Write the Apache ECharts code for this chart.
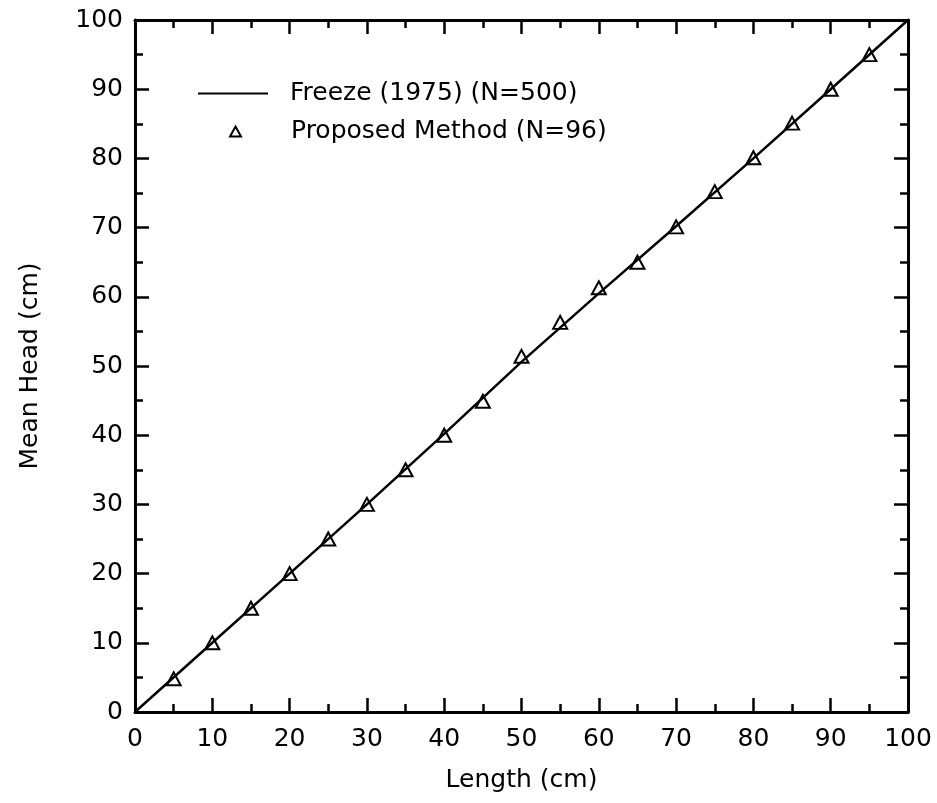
<!DOCTYPE html>
<html>
<head>
<meta charset="utf-8">
<script src="https://cdn.jsdelivr.net/npm/echarts@6/dist/echarts.min.js"></script>
<style>html,body{margin:0;padding:0;background:#fff;}#c{width:937px;height:803px;}</style>
</head>
<body>
<div id="c"></div>
<script>
const lineName = 'Freeze (1975) (N=500)';
const pointName = 'Proposed Method (N=96)';
const lineX = [0, 10, 20, 30, 40, 50, 60, 70, 80, 90, 100];
const lineY = [0, 10, 20, 30, 40.2, 50.6, 60.5, 70.2, 80, 90, 100];
const pointX = [5, 10, 15, 20, 25, 30, 35, 40, 45, 50, 55, 60, 65, 70, 75, 80, 85, 90, 95];
const pointY = [4.8, 10, 15, 20, 25, 30, 35, 40, 44.9, 51.4, 56.3, 61.3, 65, 70.1, 75.2, 80.1, 85.1, 90, 95];
const xTitle = 'Length (cm)';
const yTitle = 'Mean Head (cm)';

const FONT = 'DejaVu Sans';
const FS = 25;
const chart = echarts.init(document.getElementById('c'));
function axisBase(show) {
  return {
    type: 'value', min: 0, max: 100, interval: 10,
    axisLine: { show: true, onZero: false, lineStyle: { color: '#000', width: 3 } },
    axisTick: { show: true, inside: true, length: 14, lineStyle: { color: '#000', width: 2.5 } },
    minorTick: { show: true, splitNumber: 2, length: 8, lineStyle: { color: '#000', width: 2.5 } },
    splitLine: { show: false },
    axisLabel: { show: show, color: '#000', fontFamily: FONT, fontSize: FS }
  };
}
const xB = Object.assign(axisBase(true), { position: 'bottom', name: xTitle, nameLocation: 'middle', nameGap: 56,
  nameTextStyle: { color: '#000', fontFamily: FONT, fontSize: FS } });
xB.axisLabel.margin = 15;
const xT = Object.assign(axisBase(false), { position: 'top' });
const yL = Object.assign(axisBase(true), { position: 'left', name: yTitle, nameLocation: 'middle', nameGap: 92,
  nameTextStyle: { color: '#000', fontFamily: FONT, fontSize: FS } });
yL.axisLabel.margin = 12;
const yR = Object.assign(axisBase(false), { position: 'right' });

chart.setOption({
  backgroundColor: '#fff',
  animation: false,
  grid: { left: 135, right: 29, top: 20, bottom: 91, containLabel: false },
  xAxis: [xB, xT],
  yAxis: [yL, yR],
  legend: [
    { data: [{ name: lineName, icon: 'rect' }], left: 193, top: 76, orient: 'vertical', itemWidth: 70, itemHeight: 2,
      textStyle: { color: '#000', fontFamily: FONT, fontSize: FS, padding: [0, 0, 0, 17] } },
    { data: [{ name: pointName, icon: 'triangle' }], left: 224, top: 114, orient: 'vertical', itemWidth: 11, itemHeight: 10,
      textStyle: { color: '#000', fontFamily: FONT, fontSize: FS, padding: [0, 0, 0, 45] } }
  ],
  series: [
    { name: lineName, type: 'line', xAxisIndex: 0, yAxisIndex: 0, showSymbol: false, symbol: 'none',
      data: lineX.map((x, i) => [x, lineY[i]]),
      lineStyle: { color: '#000', width: 2.5 }, itemStyle: { color: '#000' } },
    { name: pointName, type: 'scatter', xAxisIndex: 0, yAxisIndex: 0, symbol: 'triangle', symbolSize: [14, 13],
      data: pointX.map((x, i) => [x, pointY[i]]),
      itemStyle: { color: '#fff', borderColor: '#000', borderWidth: 2, opacity: 1 } }
  ]
});
</script>
</body>
</html>
